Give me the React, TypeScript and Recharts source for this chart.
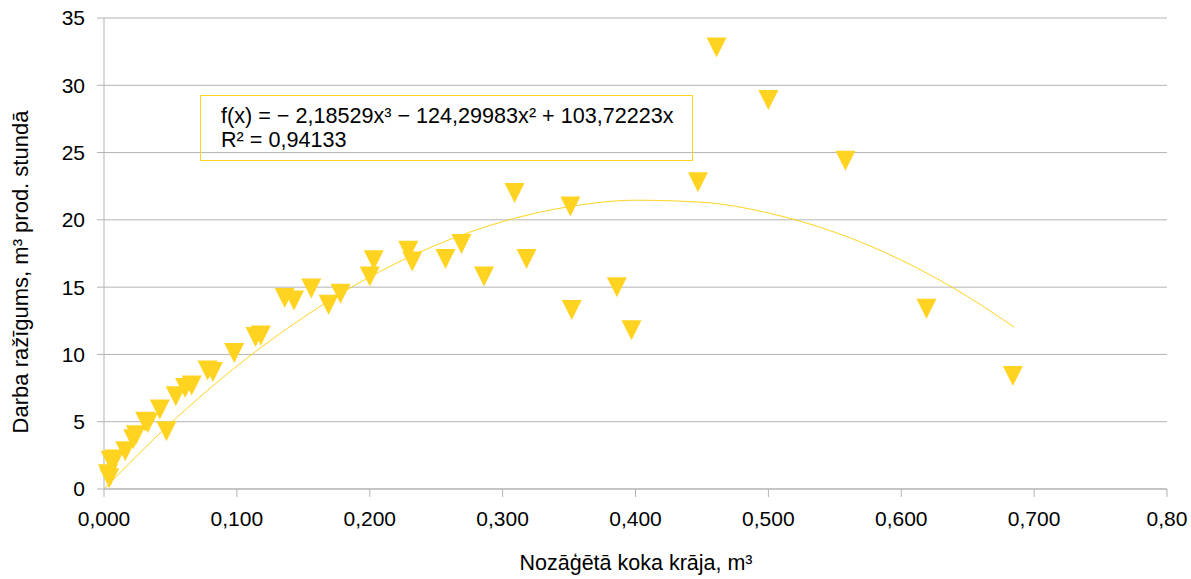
import React from "react";
import { ComposedChart, Scatter, Line, XAxis, YAxis, CartesianGrid, Label } from "recharts";

// measured points: cut tree volume (m³) vs productivity (m³ per productive hour)
const volumes = [
  0.461, 0.500, 0.558, 0.447, 0.309, 0.351, 0.269, 0.229, 0.257, 0.318,
  0.203, 0.232, 0.286, 0.200, 0.156, 0.386, 0.178, 0.136, 0.143, 0.169,
  0.352, 0.619, 0.397, 0.684, 0.118, 0.114, 0.098, 0.078, 0.082, 0.066,
  0.061, 0.054, 0.042, 0.047, 0.033, 0.031, 0.024, 0.022, 0.016, 0.008,
  0.005, 0.003, 0.004,
];
const productivity = [
  32.8, 28.9, 24.4, 22.8, 22.0, 21.0, 18.2, 17.7, 17.1, 17.1,
  17.0, 16.9, 15.8, 15.8, 14.9, 15.0, 14.5, 14.2, 14.0, 13.7,
  13.3, 13.4, 11.8, 8.4, 11.4, 11.3, 10.1, 8.8, 8.7, 7.7,
  7.5, 6.9, 5.9, 4.3, 4.9, 5.0, 4.0, 3.7, 2.8, 2.2,
  2.1, 1.1, 0.8,
];

// trendline as drawn
const trendX = [0, 0.05, 0.1, 0.15, 0.2, 0.25, 0.3, 0.35, 0.4, 0.45, 0.5, 0.55, 0.6, 0.65, 0.685];
const trendY = [0, 4.88, 9.13, 12.75, 15.76, 18.13, 19.87, 20.98, 21.46, 21.31, 20.51, 19.08, 17.01, 14.30, 12.02];

const xTicks = [0, 0.1, 0.2, 0.3, 0.4, 0.5, 0.6, 0.7, 0.8];
const xTickLabels = ["0,000", "0,100", "0,200", "0,300", "0,400", "0,500", "0,600", "0,700", "0,80"];
const yTicks = [0, 5, 10, 15, 20, 25, 30, 35];

const equation = "f(x) = − 2,18529x³ − 124,29983x² + 103,72223x";
const rSquared = "R² = 0,94133";

const YELLOW = "#ffd320";
const GRID = "#b3b3b3";
const FONT = '"Liberation Sans", Arial, sans-serif';

const points = volumes.map((x, i) => ({ x, y: productivity[i] }));
const trend = trendX.map((x, i) => ({ x, y: trendY[i] }));

const TriangleDown = (props: any) => {
  const { cx, cy } = props;
  if (cx == null || cy == null) return null;
  return <path d={`M${cx - 10},${cy - 10} L${cx + 10},${cy - 10} L${cx},${cy + 10} Z`} fill={YELLOW} />;
};

const App = () => {
  return (
    <div
      style={{
        position: "absolute",
        left: 0,
        top: 0,
        width: 1191,
        height: 579,
        background: "#fff",
        fontFamily: FONT,
        overflow: "hidden",
      }}
    >
      <ComposedChart width={1191} height={579} margin={{ top: 18, right: 24, bottom: 0, left: 0 }}>
        <CartesianGrid vertical={false} stroke={GRID} />
        <XAxis
          type="number"
          dataKey="x"
          domain={[0, 0.8]}
          ticks={xTicks}
          interval={0}
          height={90}
          stroke={GRID}
          tickSize={8}
          tickMargin={14}
          tick={{ fill: "#000", fontSize: 21, fontFamily: FONT }}
          tickFormatter={(v: number) => xTickLabels[xTicks.findIndex((t) => Math.abs(t - v) < 1e-9)] ?? ""}
        >
          <Label
            content={() => (
              <text x={636} y={570} textAnchor="middle" fill="#000" fontSize={21.5} fontFamily={FONT}>
                Nozāģētā koka krāja, m³
              </text>
            )}
          />
        </XAxis>
        <YAxis
          type="number"
          dataKey="y"
          domain={[0, 35]}
          ticks={yTicks}
          interval={0}
          width={104}
          stroke={GRID}
          tickSize={7}
          tickMargin={12}
          tick={{ fill: "#000", fontSize: 21, fontFamily: FONT }}
        >
          <Label
            content={() => (
              <text
                transform="translate(28,272) rotate(-90)"
                textAnchor="middle"
                fill="#000"
                fontSize={22}
                fontFamily={FONT}
              >
                Darba ražīgums, m³ prod. stundā
              </text>
            )}
          />
        </YAxis>
        <Scatter data={points} dataKey="y" fill={YELLOW} shape={TriangleDown} isAnimationActive={false} />
        <Line
          data={trend}
          dataKey="y"
          type="monotone"
          stroke={YELLOW}
          strokeWidth={1}
          dot={false}
          activeDot={false}
          isAnimationActive={false}
        />
      </ComposedChart>
      <div
        style={{
          position: "absolute",
          left: 200,
          top: 95,
          width: 491,
          height: 64,
          border: `1px solid ${YELLOW}`,
          boxSizing: "content-box",
          fontSize: 21.6,
          lineHeight: "24px",
          color: "#000",
        }}
      >
        <div style={{ position: "absolute", left: 20, top: 8, whiteSpace: "nowrap" }}>{equation}</div>
        <div style={{ position: "absolute", left: 20, top: 32, whiteSpace: "nowrap" }}>{rSquared}</div>
      </div>
    </div>
  );
};

export default App;
